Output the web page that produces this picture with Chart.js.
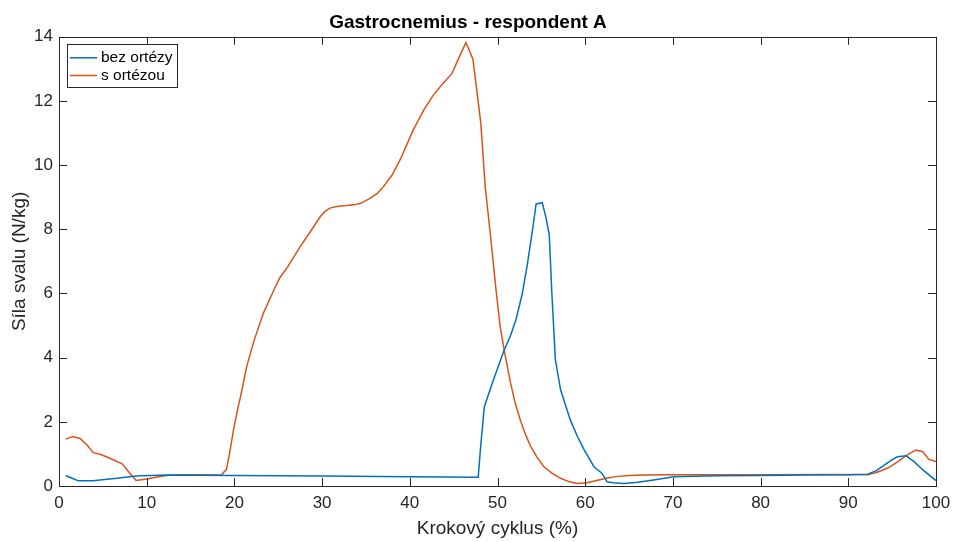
<html>
<head>
<script src="https://cdn.jsdelivr.net/npm/chart.js@4/dist/chart.umd.min.js"></script>
<style>
  body { margin: 0; background: #fff; }
  #wrap { width: 954px; height: 542px; }
</style>
</head>
<body>
<div id="wrap"><canvas id="c"></canvas></div>
<script>
// data (x = % of gait cycle, y = N/kg)
var seriesNames = ["bez ortézy", "s ortézou"];
var bezOrtezy = [
  [0.76,0.32],[1.5,0.24],[2.2,0.16],[3.9,0.16],[5.2,0.2],[6.6,0.24],[8.0,0.29],[9.2,0.32],
  [10.5,0.33],[12.3,0.34],[20,0.33],[30,0.31],[40,0.29],[47.8,0.27],[48.1,1.3],[48.5,2.47],
  [49.4,3.2],[50.7,4.19],[51.5,4.7],[52.1,5.18],[52.8,5.96],[53.4,6.9],[54.0,8.0],[54.4,8.79],
  [55.1,8.83],[55.5,8.4],[55.9,7.83],[56.2,6.0],[56.6,3.93],[57.2,2.99],[58.3,2.06],[59.1,1.55],
  [59.9,1.12],[61.0,0.6],[61.9,0.4],[62.5,0.13],[63.2,0.1],[64.4,0.08],[66,0.12],[67.8,0.19],
  [70.1,0.29],[75,0.32],[80,0.33],[85,0.34],[90,0.35],[92.2,0.37],[93.2,0.48],[94.1,0.65],
  [95.0,0.82],[95.6,0.91],[96.6,0.94],[97.5,0.76],[98.5,0.5],[100,0.17]
];
var sOrtezou = [
  [0.76,1.46],[1.6,1.54],[2.4,1.48],[3.2,1.28],[3.9,1.04],[4.7,0.99],[6.0,0.84],[7.2,0.69],
  [8.0,0.42],[8.8,0.17],[10.0,0.22],[11.2,0.28],[12.3,0.33],[14,0.35],[16,0.35],[18.5,0.34],
  [19.1,0.52],[19.5,1.1],[19.9,1.75],[20.3,2.3],[20.7,2.79],[21.4,3.72],[22.2,4.5],[23.3,5.38],
  [24.5,6.11],[25.2,6.5],[26.0,6.8],[27.5,7.46],[28.6,7.9],[29.8,8.4],[30.3,8.55],[30.9,8.66],
  [31.8,8.72],[32.8,8.74],[33.8,8.77],[34.4,8.81],[35.5,8.97],[36.3,9.12],[37.0,9.33],[38.0,9.7],
  [38.9,10.17],[39.6,10.6],[40.4,11.1],[41.6,11.72],[42.7,12.19],[43.8,12.55],[44.8,12.85],
  [45.6,13.35],[46.4,13.82],[47.2,13.3],[48.1,11.3],[48.6,9.33],[49.2,7.8],[49.8,6.2],
  [50.3,4.97],[50.9,4.03],[51.5,3.2],[52.0,2.6],[52.6,2.06],[53.2,1.6],[53.8,1.23],[54.5,0.9],
  [55.3,0.6],[56.2,0.4],[57.2,0.24],[58.2,0.13],[59.1,0.08],[60.2,0.1],[61.3,0.17],[62.5,0.25],
  [63.7,0.3],[65,0.33],[66.7,0.34],[70,0.35],[80,0.35],[88,0.36],[92.2,0.35],[93.3,0.43],
  [94.5,0.56],[95.5,0.73],[96.4,0.91],[97.1,1.03],[97.7,1.12],[98.5,1.07],[99.2,0.83],[100,0.76]
];
var xTicks = [0,10,20,30,40,50,60,70,80,90,100];
var yTicks = [0,2,4,6,8,10,12,14];

var colors = ["#0072BD", "#D95319"];
var axisColor = "#262626";
var fontFam = "'Liberation Sans', Arial, sans-serif";

function toPts(arr) {
  return arr.map(function (p) { return {x: p[0], y: p[1]}; });
}

// box around the axes + inward tick marks + boxed legend, MATLAB style
var matlabAxes = {
  id: "matlabAxes",
  afterDraw: function (chart) {
    var ctx = chart.ctx, a = chart.chartArea;
    var xs = chart.scales.x, ys = chart.scales.y;
    var tl = 8;
    ctx.save();
    ctx.strokeStyle = axisColor;
    ctx.lineWidth = 1;
    ctx.beginPath();
    xTicks.forEach(function (v) {
      var px = Math.round(xs.getPixelForValue(v)) + 0.5;
      ctx.moveTo(px, a.bottom); ctx.lineTo(px, a.bottom - tl);
      ctx.moveTo(px, a.top); ctx.lineTo(px, a.top + tl);
    });
    yTicks.forEach(function (v) {
      var py = Math.round(ys.getPixelForValue(v)) + 0.5;
      ctx.moveTo(a.left, py); ctx.lineTo(a.left + tl, py);
      ctx.moveTo(a.right, py); ctx.lineTo(a.right - tl, py);
    });
    ctx.stroke();
    ctx.strokeRect(Math.round(a.left) + 0.5, Math.round(a.top) + 0.5,
                   Math.round(a.right - a.left), Math.round(a.bottom - a.top));

    // legend
    var lx = a.left + 8, ly = a.top + 7, lw = 110, lh = 43;
    ctx.fillStyle = "#fff";
    ctx.fillRect(lx, ly, lw, lh);
    ctx.strokeStyle = axisColor;
    ctx.strokeRect(Math.round(lx) + 0.5, Math.round(ly) + 0.5, lw, lh);
    ctx.font = "15.5px " + fontFam;
    ctx.textBaseline = "middle";
    ctx.textAlign = "left";
    chart.data.datasets.forEach(function (ds, i) {
      var yy = ly + 14 + i * 17.7;
      ctx.strokeStyle = ds.borderColor;
      ctx.lineWidth = 1.5;
      ctx.beginPath();
      ctx.moveTo(lx + 3, yy); ctx.lineTo(lx + 30, yy);
      ctx.stroke();
      ctx.fillStyle = "#000";
      ctx.fillText(ds.label, lx + 34, yy);
    });
    ctx.restore();
  }
};

var chart = new Chart(document.getElementById("c"), {
  type: "line",
  data: {
    datasets: [
      { label: seriesNames[0], data: toPts(bezOrtezy), borderColor: colors[0], borderWidth: 1.5,
        pointRadius: 0, tension: 0, fill: false },
      { label: seriesNames[1], data: toPts(sOrtezou), borderColor: colors[1], borderWidth: 1.5,
        pointRadius: 0, tension: 0, fill: false }
    ]
  },
  options: {
    responsive: true,
    maintainAspectRatio: false,
    animation: false,
    layout: { padding: { left: 0, right: 18, top: 0, bottom: 0 } },
    plugins: {
      legend: { display: false },
      tooltip: { enabled: false },
      title: {
        display: true,
        text: "Gastrocnemius - respondent A",
        color: "#000",
        font: { family: fontFam, size: 19, weight: "bold" },
        padding: { top: 11, bottom: 3 }
      }
    },
    scales: {
      x: {
        type: "linear", min: 0, max: 100,
        afterBuildTicks: function (s) { s.ticks = xTicks.map(function (v) { return {value: v}; }); },
        afterFit: function (s) { s.height = 56; s.paddingLeft = 0; s.paddingRight = 0; },
        grid: { display: false, drawTicks: false },
        border: { display: false },
        ticks: { color: axisColor, padding: 7, maxRotation: 0, font: { family: fontFam, size: 17 } },
        title: { display: true, text: "Krokový cyklus (%)", color: axisColor,
                 font: { family: fontFam, size: 19 }, padding: { top: 0, bottom: 2 } }
      },
      y: {
        type: "linear", min: 0, max: 14,
        afterBuildTicks: function (s) { s.ticks = yTicks.map(function (v) { return {value: v}; }); },
        afterFit: function (s) { s.width = 59; s.paddingTop = 0; s.paddingBottom = 0; },
        grid: { display: false, drawTicks: false },
        border: { display: false },
        ticks: { color: axisColor, padding: 6, font: { family: fontFam, size: 17 } },
        title: { display: true, text: "Síla svalu (N/kg)", color: axisColor,
                 font: { family: fontFam, size: 19 }, padding: { top: 8, bottom: 0 } }
      }
    }
  },
  plugins: [matlabAxes]
});
</script>
</body>
</html>
